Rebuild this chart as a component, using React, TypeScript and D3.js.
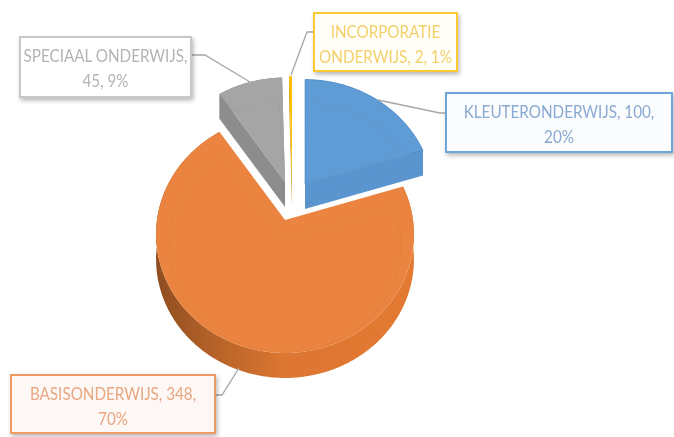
import React from "react";
import * as d3 from "d3";

const categories = ["KLEUTERONDERWIJS", "BASISONDERWIJS", "SPECIAAL ONDERWIJS", "INCORPORATIE ONDERWIJS"];
const values = [100, 348, 45, 2];
const percents = ["20%", "70%", "9%", "1%"];
const labelLines = [
  ["KLEUTERONDERWIJS, 100,", "20%"],
  ["BASISONDERWIJS, 348,", "70%"],
  ["SPECIAAL ONDERWIJS,", "45, 9%"],
  ["INCORPORATIE", "ONDERWIJS, 2, 1%"],
];
const topColors = ["#5f9cd6", "#ea843f", "#a5a5a5", "#ffc000"];
const sideColors = ["#5a95cf", "#d9722d", "#8d8d8d", "#c99a10"];
const textColors = ["#8aa9d2", "#e9a680", "#b4b4b4", "#f3d06a"];
const borderColors = ["#6ea5d8", "#ee9a63", "#c8c8c8", "#fcc935"];
const fillColors = ["#fafcfe", "#fdf8f5", "#ffffff", "#fffef9"];
const apexX = [305, 285, 285, 292];
const apexY = [184, 220, 182, 181];
const boxes = [
  { x: 446, y: 93, w: 226, h: 59 },
  { x: 11, y: 375, w: 204, h: 58 },
  { x: 20, y: 37, w: 171, h: 60 },
  { x: 314, y: 13, w: 143, h: 58 },
];
const leaders = [
  [[446, 113], [440, 113], [378, 100]],
  [[215, 395], [222, 395], [239, 368]],
  [[191, 55], [205, 55], [250, 82]],
  [[314, 32], [307, 32], [291, 75]],
];

const W = 674, H = 437;
const R = 128, B = 117, PERSP = 0.12, DEPTH = 25, TEXT_SQUEEZE = 0.87;

const slices = d3.pie<number>().sort(null).startAngle(0).endAngle(2 * Math.PI)(values);

function proj(theta: number, r: number, ax: number, ay: number, dy = 0): [number, number] {
  const u = Math.sin(theta) * r, v = -Math.cos(theta) * r;
  const w = 1 - PERSP * v;
  return [ax + (R * u) / w, ay + (B * v) / w + dy];
}
function arcPts(a0: number, a1: number, r: number, ax: number, ay: number, dy = 0) {
  const n = Math.max(4, Math.ceil((a1 - a0) * 60));
  return d3.range(n + 1).map((i) => proj(a0 + ((a1 - a0) * i) / n, r, ax, ay, dy));
}
const line = d3.line();

export default function App() {
  return (
    <svg width={W} height={H} style={{ position: "absolute", left: 0, top: 0, background: "#fff" }}
      fontFamily="Lato, 'Open Sans', sans-serif">
      <defs>
        <filter id="soft" x="-5%" y="-5%" width="110%" height="110%">
          <feGaussianBlur stdDeviation="0.55" />
        </filter>
        <filter id="shadow" x="-10%" y="-20%" width="125%" height="150%">
          <feDropShadow dx="1.5" dy="2.5" stdDeviation="2" floodOpacity="0.28" />
        </filter>
        <linearGradient id="rim" x1="0" x2="1" y1="0" y2="0">
          <stop offset="0" stopColor="#8f4d20" />
          <stop offset="0.22" stopColor="#b5622a" />
          <stop offset="0.5" stopColor="#dc7630" />
          <stop offset="1" stopColor="#e47a30" />
        </linearGradient>
      </defs>
      <g filter="url(#soft)">
        {slices.map((s, i) => {
          const ax = apexX[i], ay = apexY[i];
          const top = arcPts(s.startAngle, s.endAngle, 1, ax, ay);
          const low = arcPts(s.startAngle, s.endAngle, 1, ax, ay, DEPTH);
          const apexLow: [number, number] = [ax, ay + DEPTH];
          const band = [...top, ...low.slice().reverse()];
          const startQuad = [[ax, ay], top[0], low[0], apexLow] as [number, number][];
          const endQuad = [[ax, ay], top[top.length - 1], low[low.length - 1], apexLow] as [number, number][];
          const face = [[ax, ay] as [number, number], ...top];
          const inner = arcPts(s.startAngle + 0.03, s.endAngle - 0.03, 0.9, ax, ay + 14);
          const fill = i === 1 ? "url(#rim)" : sideColors[i];
          return (
            <g key={categories[i]}>
              <path d={line(band)! + "Z"} fill={fill} />
              {i !== 1 && <path d={line(startQuad)! + "Z"} fill={fill} />}
              {i !== 1 && <path d={line(endQuad)! + "Z"} fill={fill} />}
              <path d={line(face)! + "Z"} fill={topColors[i]} stroke={i === 0 ? "#4a86c0" : "none"} strokeWidth={0.6} />
              {i < 3 && (
                <path d={line([[ax, ay + 20], ...inner])! + "Z"} fill="none" stroke="#000" strokeOpacity={0.025} />
              )}
            </g>
          );
        })}
        {leaders.map((l, i) => (
          <path key={i} d={line(l as [number, number][])!} fill="none" stroke="#a6a6a6" strokeWidth={1.3} />
        ))}
        {boxes.map((b, i) => (
          <g key={i}>
            <rect x={b.x} y={b.y} width={b.w} height={b.h} fill={fillColors[i]} stroke={borderColors[i]} strokeWidth={2} filter="url(#shadow)" />
            {labelLines[i].map((t, j) => (
              <text key={j} transform={`translate(${b.x + b.w / 2},${b.y + 25 + j * 25}) scale(${TEXT_SQUEEZE},1)`}
                textAnchor="middle" fontSize={17.5} fill={textColors[i]}>
                {t}
              </text>
            ))}
          </g>
        ))}
      </g>
    </svg>
  );
}
